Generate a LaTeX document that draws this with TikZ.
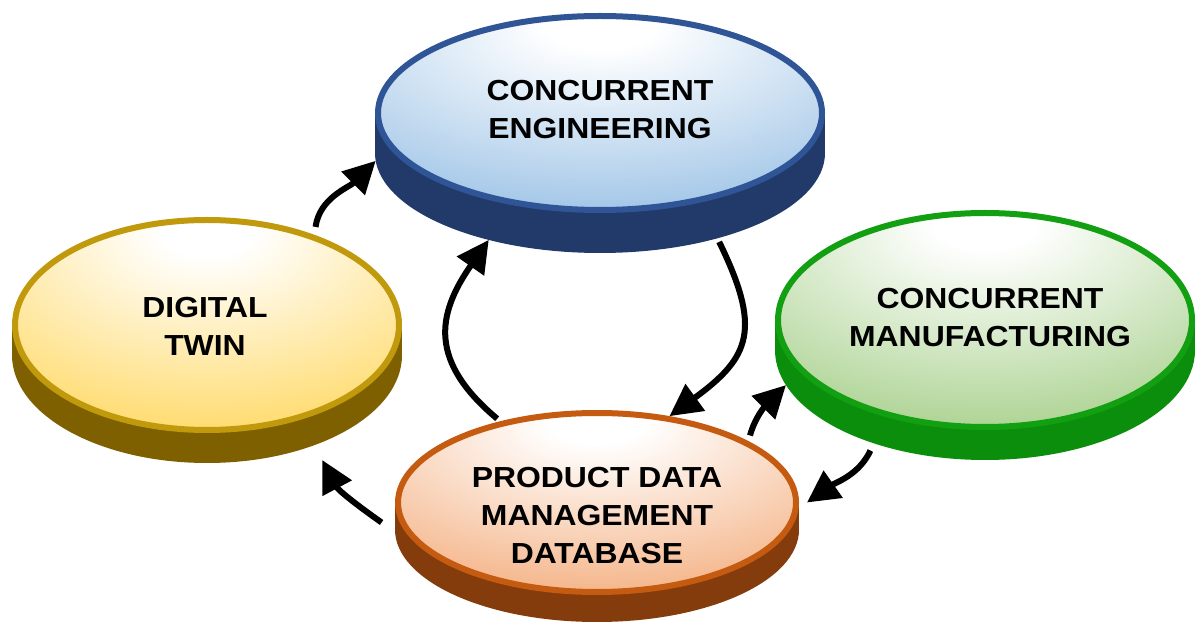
\documentclass[tikz,border=0pt]{standalone}
\usepackage{fontspec}
\setmainfont{Liberation Sans}[FakeStretch=1.1]
\usetikzlibrary{shapes.geometric,arrows.meta}

% rim, side and face colours of the four discs
\definecolor{cerim}{HTML}{2F5597}
\definecolor{ceside}{HTML}{223A6A}
\definecolor{cefill}{HTML}{9DC3E6}
\definecolor{dtrim}{HTML}{C09A0C}
\definecolor{dtside}{HTML}{7F6000}
\definecolor{dtfill}{HTML}{FFD966}
\definecolor{cmrim}{HTML}{12A012}
\definecolor{cmside}{HTML}{0B8E0B}
\definecolor{cmfill}{HTML}{A9D18E}
\definecolor{pdmrim}{HTML}{C55A11}
\definecolor{pdmside}{HTML}{843C0C}
\definecolor{pdmfill}{HTML}{F4B183}

\pgfdeclareradialshading{ceshade}{\pgfpoint{0bp}{24bp}}{color(0bp)=(white); color(6bp)=(white); color(42bp)=(cefill); color(100bp)=(cefill)}
\pgfdeclareradialshading{dtshade}{\pgfpoint{0bp}{24bp}}{color(0bp)=(white); color(6bp)=(white); color(42bp)=(dtfill); color(100bp)=(dtfill)}
\pgfdeclareradialshading{cmshade}{\pgfpoint{0bp}{24bp}}{color(0bp)=(white); color(6bp)=(white); color(42bp)=(cmfill); color(100bp)=(cmfill)}
\pgfdeclareradialshading{pdmshade}{\pgfpoint{0bp}{24bp}}{color(0bp)=(white); color(6bp)=(white); color(42bp)=(pdmfill); color(100bp)=(pdmfill)}

\tikzset{
  disc/.style={shape=ellipse, inner sep=0pt, outer sep=0pt, fill=#1side},
  face/.style={shape=ellipse, inner sep=0pt, draw=#1rim, line width=3pt, shading=#1shade},
  caption/.style={align=center, font=\fontsize{14.5}{19}\selectfont\bfseries},
  flow/.style={-{Triangle[length=16pt,width=16pt]}, line width=3pt},
}

\begin{document}
\begin{tikzpicture}[x=0.5pt, y=0.5pt]

\path [use as bounding box, fill=white] (0,0) rectangle (1198,621);

% discs: name / centre of top face / radii / thickness
\foreach \n/\cx/\cy/\rx/\ry/\d in {ce/600/508/225/100/40, dt/207/296/195/108/30, cm/985/301/210/110/30, pdm/597/118.5/202/92.5/27} {
  \node [disc=\n, minimum width=\rx pt, minimum height=\ry pt] (\n-side) at (\cx,\cy-\d) {};
  \fill [fill=\n side] (\n-side.west) rectangle ([yshift=\d*0.5pt]\n-side.east);
  \node [face=\n, minimum width=\rx pt-3pt, minimum height=\ry pt-3pt] (\n) at (\cx,\cy) {};
}

\foreach \n/\tx/\ty/\txt in {ce/600/511/{CONCURRENT\\ENGINEERING}, dt/205/294.5/{DIGITAL\\TWIN}, cm/990/303/{CONCURRENT\\MANUFACTURING}, pdm/597/105/{PRODUCT DATA\\MANAGEMENT\\DATABASE}}
  \node [caption] (\n-lbl) at (\tx,\ty) {\txt};

% links between the discs
\draw [flow, shorten <=4pt] (dt.40) to [out=82, in=225] (ce-side.182);
\draw [flow, shorten <=2pt, looseness=1.3] (pdm.140) to [out=140, in=235] (ce-side.218);
\draw [flow, shorten <=2pt, looseness=1.4] (ce-side.324) to [out=-64, in=36] (pdm.50);
\draw [flow, shorten <=3pt] (pdm.22) to [out=75, in=225] (cm-side.190);
\draw [flow, shorten <=4pt] (cm-side.220) to [out=-115, in=35] ([xshift=4pt]pdm.0);
\draw [flow] ([xshift=-7pt]pdm-side.178) to [out=145, in=-62] ([xshift=6.5pt,yshift=-6.5pt]dt-side.318);

\end{tikzpicture}
\end{document}
